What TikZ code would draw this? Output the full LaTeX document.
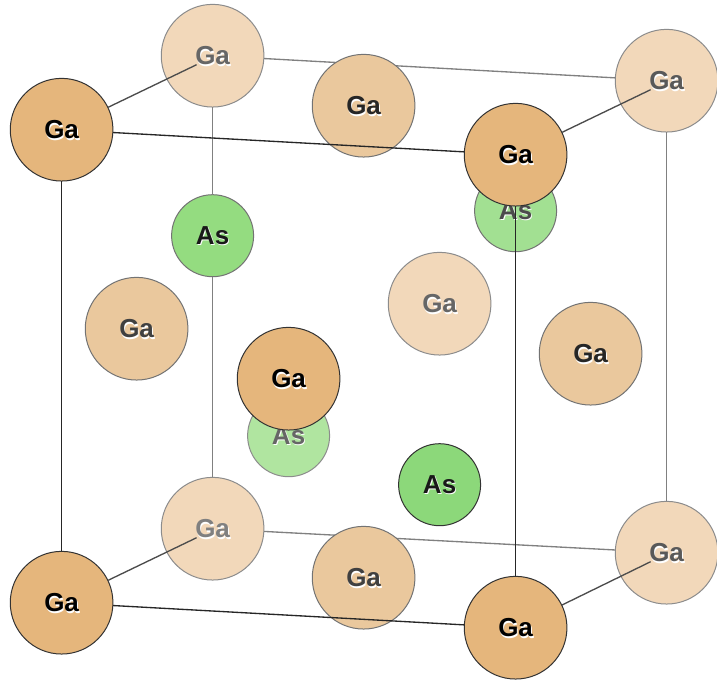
\documentclass[tikz,border=0pt]{standalone}
\usepackage{fontspec}
\setmainfont{Liberation Sans}
\definecolor{gaA}{HTML}{E5B67C}
\definecolor{gaB}{HTML}{EAC89D}
\definecolor{gaC}{HTML}{F2D8BA}
\definecolor{asA}{HTML}{8CD87A}
\definecolor{asB}{HTML}{94DC80}
\definecolor{asC}{HTML}{A2E092}
\definecolor{asD}{HTML}{B0E5A0}
\newcommand{\atomlabel}[2]{\makebox[0pt]{\raisebox{-1pt}{\hspace{1.4pt}\textcolor{white}{#2}}}\makebox[0pt]{\textcolor{#1}{#2}}}
\tikzset{
  atom/.style={circle,inner sep=0pt,outer sep=0pt,font=\fontsize{19.5}{21}\selectfont\bfseries,text depth=0pt},
  gaatom/.style={atom,minimum size=77pt},
  asatom/.style={atom,minimum size=61.5pt},
  front/.style={draw=black!80,line width=.75pt},
  mid/.style={draw=black!55,line width=.75pt},
  back/.style={draw=black!45,line width=.75pt},
  bondfront/.style={draw=black!85,line width=1pt},
  bondside/.style={draw=black!70,line width=1pt},
  bondback/.style={draw=black!50,line width=1pt},
}
\begin{document}
\begin{tikzpicture}[x=.75pt,y=-.75pt]
\useasboundingbox[fill=white] (0,0) rectangle (717,681);
\begin{scope}[shift={(-.4,-.3)}]
% free ends of the bonds that run into the pale atoms
\coordinate (endTL) at (197,65);
\coordinate (endTR) at (651,90);
\coordinate (endBL) at (197,538);
\coordinate (endBR) at (651,562);
% back atoms
\node[gaatom,back,fill=gaC] (g5) at (213,56) {\atomlabel{black!60}{Ga}};
\node[gaatom,back,fill=gaC] (g6) at (667,81) {\atomlabel{black!65}{Ga}};
\node[gaatom,back,fill=gaC] (g7) at (213,529) {\atomlabel{black!50}{Ga}};
\node[gaatom,back,fill=gaC] (g8) at (667,553) {\atomlabel{black!65}{Ga}};
\node[asatom,mid,fill=asB] (a1) at (213,236) {\atomlabel{black!90}{As}};
% back bonds
\draw[bondback] (g5) -- (g6);
\draw[bondback] (g7) -- (g8);
\draw[bondback] (g5) -- (a1);
\draw[bondback] (a1) -- (g7);
\draw[bondback] (g6) -- (g8);
% face atoms
\node[gaatom,mid,fill=gaB] (f1) at (364,106) {\atomlabel{black!85}{Ga}};
\node[gaatom,mid,fill=gaB] (f2) at (364,578) {\atomlabel{black!75}{Ga}};
\node[gaatom,mid,fill=gaB] (f3) at (137,329) {\atomlabel{black!75}{Ga}};
\node[gaatom,mid,fill=gaB] (f4) at (591,354) {\atomlabel{black!85}{Ga}};
\node[gaatom,back,fill=gaC] (f5) at (440,304) {\atomlabel{black!60}{Ga}};
\node[asatom,back,fill=asD] (a3) at (289,436) {\atomlabel{black!60}{As}};
\node[asatom,mid,fill=asC] (a2) at (516,211) {\atomlabel{black!70}{As}};
\node[asatom,front,fill=asA] (a4) at (440,485) {\atomlabel{black!90}{As}};
% front atoms
\node[gaatom,front,fill=gaA] (g1) at (62,130) {\atomlabel{black}{Ga}};
\node[gaatom,front,fill=gaA] (g2) at (516,155) {\atomlabel{black}{Ga}};
\node[gaatom,front,fill=gaA] (g3) at (62,603) {\atomlabel{black}{Ga}};
\node[gaatom,front,fill=gaA] (g4) at (516,628) {\atomlabel{black}{Ga}};
\node[gaatom,front,fill=gaA] (f6) at (289,379) {\atomlabel{black}{Ga}};
% front bonds
\draw[bondfront] (g1) -- (g2);
\draw[bondfront] (g3) -- (g4);
\draw[bondfront] (g1) -- (g3);
\draw[bondfront] (g2) -- (g4);
\draw[bondside] (g1) -- (endTL);
\draw[bondside] (g2) -- (endTR);
\draw[bondside] (g3) -- (endBL);
\draw[bondside] (g4) -- (endBR);
\end{scope}
\end{tikzpicture}
\end{document}
